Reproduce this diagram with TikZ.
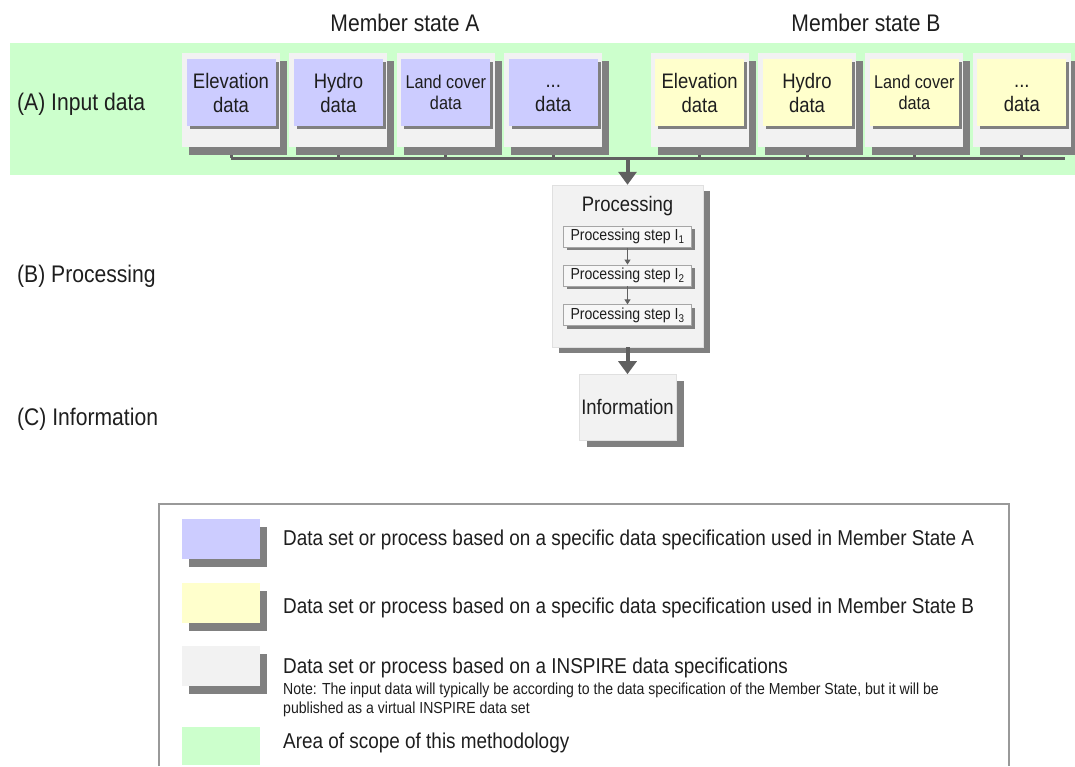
\documentclass[tikz,border=0pt]{standalone}
\usepackage{fontspec}
\setmainfont{Liberation Sans}[FakeStretch=0.88]
\usetikzlibrary{arrows.meta, positioning, shadows, backgrounds}

\definecolor{stateA}{RGB}{204,204,255}
\definecolor{stateB}{RGB}{255,255,204}
\definecolor{scopegreen}{RGB}{204,255,204}
\definecolor{panelgray}{RGB}{242,242,242}
\definecolor{shadowgray}{RGB}{128,128,128}
\definecolor{wiregray}{RGB}{96,96,96}
\definecolor{ink}{RGB}{30,30,30}

\tikzset{
  panelbox/.style={fill=panelgray, inner sep=0pt, minimum width=98pt,
    minimum height=94pt,
    drop shadow={shadow xshift=7pt, shadow yshift=-8pt, fill=shadowgray, opacity=1}},
  databox/.style={inner sep=0pt, minimum width=89pt, minimum height=67pt,
    align=center, text=ink, font=\fontsize{21}{24}\selectfont,
    drop shadow={shadow xshift=3pt, shadow yshift=-3pt, fill=shadowgray, opacity=1}},
  stepbox/.style={fill=white!97!black, draw=gray!70, line width=0.8pt,
    inner sep=0pt, minimum width=128pt, minimum height=21pt, text=ink,
    font=\fontsize{16}{19}\selectfont,
    drop shadow={shadow xshift=3pt, shadow yshift=-3pt, fill=shadowgray, opacity=1}},
  keybox/.style={inner sep=0pt, minimum width=78pt, minimum height=40pt},
  keyshadow/.style={drop shadow={shadow xshift=7pt, shadow yshift=-8pt,
    fill=shadowgray, opacity=1}},
  rowlabel/.style={text=ink, inner sep=0pt, font=\fontsize{24}{28}\selectfont},
  legtext/.style={text=ink, inner sep=0pt, font=\fontsize{21.5}{26}\selectfont},
  wire/.style={draw=wiregray, line width=3pt},
  bigarrow/.style={draw=wiregray, line width=4pt,
    -{Triangle[width=18pt, length=13pt]}},
  smallarrow/.style={draw=wiregray, line width=1pt,
    -{Triangle[width=6pt, length=5pt]}}
}

\begin{document}
\begin{tikzpicture}[x=1pt, y=-1pt]
  \useasboundingbox (0,0) rectangle (1075,766);

  % row labels
  \node[rowlabel, anchor=base west] (labA) at (17,110) {(A) Input data};
  \node[rowlabel, anchor=base west] (labB) at (17,282) {(B) Processing};
  \node[rowlabel, anchor=base west] (labC) at (17,425) {(C) Information};
  \node[rowlabel, anchor=base] (memA) at (405,31) {Member state A};
  \node[rowlabel, anchor=base] (memB) at (866,31) {Member state B};

  % input data, member state A
  \node[panelbox] (pA1) at (231,100) {};
  \node[panelbox, right=9pt of pA1] (pA2) {};
  \node[panelbox, right=9pt of pA2] (pA3) {};
  \node[panelbox, right=9pt of pA3] (pA4) {};
  % input data, member state B
  \node[panelbox, right=48pt of pA4] (pB1) {};
  \node[panelbox, right=9pt of pB1] (pB2) {};
  \node[panelbox, right=9pt of pB2] (pB3) {};
  \node[panelbox, right=9pt of pB3] (pB4) {};

  \node[databox, fill=stateA, below=6pt of pA1.north] (dA1) {Elevation\\data};
  \node[databox, fill=stateA, below=6pt of pA2.north] (dA2) {Hydro\\data};
  \node[databox, fill=stateA, below=6pt of pA3.north,
        font=\fontsize{18.5}{21}\selectfont] (dA3) {Land cover\\data};
  \node[databox, fill=stateA, below=6pt of pA4.north] (dA4) {\vphantom{E}...\\data};
  \node[databox, fill=stateB, below=6pt of pB1.north] (dB1) {Elevation\\data};
  \node[databox, fill=stateB, below=6pt of pB2.north] (dB2) {Hydro\\data};
  \node[databox, fill=stateB, below=6pt of pB3.north,
        font=\fontsize{18.5}{21}\selectfont] (dB3) {Land cover\\data};
  \node[databox, fill=stateB, below=6pt of pB4.north] (dB4) {\vphantom{E}...\\data};

  % processing
  \node[fill=panelgray, draw=white!88!black, inner sep=0pt, minimum width=151pt,
        minimum height=162pt,
        drop shadow={shadow xshift=7pt, shadow yshift=-6pt, fill=shadowgray, opacity=1}]
    (proc) at (627.5,266) {};
  \node[text=ink, inner sep=0pt, font=\fontsize{21}{24}\selectfont,
        below=11pt of proc.north] (ptitle) {Processing};
  \node[stepbox, below=10pt of ptitle] (step1) {Processing step I\textsubscript{1}};
  \node[stepbox, below=17pt of step1] (step2) {Processing step I\textsubscript{2}};
  \node[stepbox, below=18pt of step2] (step3) {Processing step I\textsubscript{3}};
  \draw[smallarrow] (step1) -- (step2);
  \draw[smallarrow] (step2) -- (step3);

  % information
  \node[fill=panelgray, draw=white!88!black, inner sep=0pt, minimum width=97pt,
        minimum height=66pt, text=ink, font=\fontsize{21}{24}\selectfont,
        drop shadow={shadow xshift=8pt, shadow yshift=-7pt, fill=shadowgray, opacity=1},
        below=27pt of proc] (info) {Information};
  \draw[bigarrow] (proc.south) -- (info.north);

  % scope band and data bus
  \coordinate (busR) at (1065,158);
  \begin{pgfonlayer}{background}
    \fill[scopegreen] (10,43) rectangle (1075,175);
    \foreach \n in {pA1,pA2,pA3,pA4,pB1,pB2,pB3,pB4}
      \draw[wire] (\n.south) -- (\n.south |- busR);
    \draw[wire] (pA1.south |- busR) -- (busR);
  \end{pgfonlayer}
  \draw[bigarrow] (proc.north |- busR) -- (proc.north);

  % legend
  \draw[gray!80, line width=1.5pt] (159,766) |- (1009,504) -- (1009,766);
  \node[keybox, keyshadow, fill=stateA] (keyA) at (221,539) {};
  \node[keybox, keyshadow, fill=stateB, below=24pt of keyA] (keyB) {};
  \node[keybox, keyshadow, fill=panelgray, below=22pt of keyB] (keyI) {};
  \node[keybox, fill=scopegreen, minimum height=38pt, below=41pt of keyI] (keyS) {};

  \node[legtext, anchor=base west] (txtA) at (283,545)
    {Data set or process based on a specific data specification used in Member State A};
  \node[legtext, anchor=base west] (txtB) at (283,613)
    {Data set or process based on a specific data specification used in Member State B};
  \node[legtext, anchor=base west] (txtI) at (283,673)
    {Data set or process based on a INSPIRE data specifications};
  \node[text=ink, inner sep=0pt, align=left, font=\fontsize{16}{19}\selectfont,
        anchor=north west] (note) at (283,682.5)
    {Note: The input data will typically be according to the data specification of the Member State, but it will be\\
     published as a virtual INSPIRE data set};
  \node[legtext, anchor=base west] (txtS) at (283,748)
    {Area of scope of this methodology};
\end{tikzpicture}
\end{document}
